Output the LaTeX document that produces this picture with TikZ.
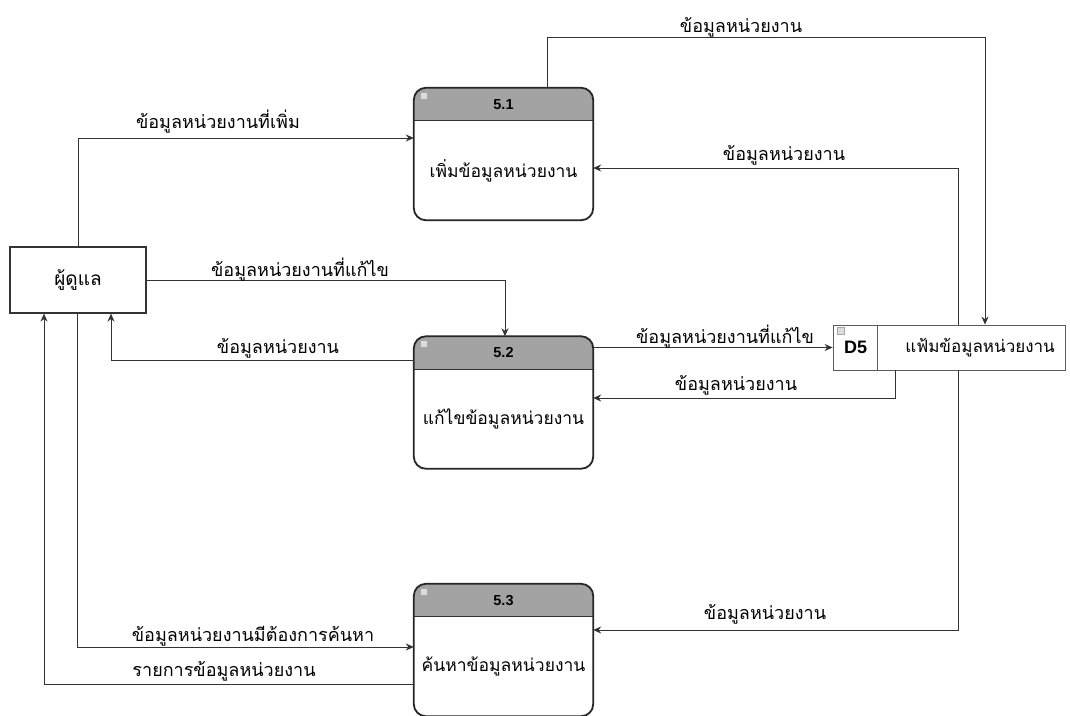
\documentclass[tikz,border=0pt]{standalone}
\usepackage{fontspec}
\setmainfont{Liberation Sans}
\newfontfamily\thai[Script=Thai]{Loma}
\usetikzlibrary{arrows.meta}
\definecolor{ln}{HTML}{333333}
\definecolor{hdr}{HTML}{A3A3A3}
\definecolor{ico}{HTML}{DCDCDC}
\tikzset{
  flow/.style={draw=ln, line width=0.9pt, -{Stealth[length=8pt,width=7pt]}},
  lbl/.style={font=\thai\fontsize{18}{20}\selectfont, text=black, inner sep=0pt},
  proc/.style={draw=none, minimum width=179pt, minimum height=132pt, inner sep=0pt},
  ent/.style={draw=ln, line width=1.2pt, minimum width=136pt, minimum height=66pt, inner sep=0pt, font=\thai\fontsize{19}{21}\selectfont},
  store/.style={draw=ln!80, line width=0.8pt, minimum width=232pt, minimum height=45pt, inner sep=0pt},
  ptitle/.style={font=\bfseries\fontsize{14.5}{16}\selectfont, inner sep=0pt},
  pname/.style={font=\thai\fontsize{17.5}{20}\selectfont, inner sep=0pt},
  icon/.style={fill=ico, draw=gray!70, line width=0.4pt}
}
\newcommand{\procbox}[4]{% name, center, number, text
  \node[proc] (#1) at #2 {};
  \begin{scope}
    \clip[rounded corners=12pt] (#1.south west) rectangle (#1.north east);
    \fill[white] (#1.south west) rectangle (#1.north east);
    \fill[hdr] ([yshift=-33pt]#1.north west) rectangle (#1.north east);
  \end{scope}
  \draw[ln, line width=1.2pt] ([yshift=-33pt]#1.north west) -- ([yshift=-33pt]#1.north east);
  \draw[black!85, line width=1.8pt, rounded corners=12pt] (#1.south west) rectangle (#1.north east);
  \fill[icon] ([xshift=6pt,yshift=-4pt]#1.north west) rectangle ([xshift=13pt,yshift=-11pt]#1.north west);
  \node[ptitle] (#1t) at ([yshift=-16.5pt]#1.north) {#3};
  \node[pname] (#1n) at ([yshift=-16.5pt]#1.center) {#4};
}
\begin{document}
\begin{tikzpicture}[x=1pt,y=-1pt]
\useasboundingbox (0,0) rectangle (1070,715);
\clip (0,0) rectangle (1070,715);
\fill[white] (0,0) rectangle (1070,715);

\node[ent] (admin) at (78,280) {ผู้ดูแล};

\procbox{p51}{(503.5,154)}{5.1}{เพิ่มข้อมูลหน่วยงาน}
\procbox{p52}{(503.5,402.5)}{5.2}{แก้ไขข้อมูลหน่วยงาน}
\procbox{p53}{(503.5,650)}{5.3}{ค้นหาข้อมูลหน่วยงาน}

% data store
\node[store, fill=white] (d5) at (949,347.5) {};
\draw[ln!80, line width=0.8pt] ([xshift=45pt]d5.north west) -- ([xshift=45pt]d5.south west);
\fill[icon] ([xshift=5pt,yshift=-3pt]d5.north west) rectangle ([xshift=12pt,yshift=-10pt]d5.north west);
\node[font=\bfseries\fontsize{18}{20}\selectfont, inner sep=0pt] (d5id) at ([xshift=23pt]d5.west) {D5};
\node[font=\thai\fontsize{17}{20}\selectfont, inner sep=0pt] (d5n) at ([xshift=31pt]d5.center) {แฟ้มข้อมูลหน่วยงาน};

% connectors
\draw[flow] (admin.north) |- ([yshift=16pt]p51.west);
\draw[flow] ([xshift=43.5pt]p51.north) -- ++(0,-50) -| ([xshift=36pt]d5.north);
\draw[flow] ([xshift=9pt]d5.north) |- ([yshift=-14pt]p51.east);
\draw[flow] (admin.east) -| ([xshift=1.5pt]p52.north);
\draw[flow] ([yshift=42.5pt]p52.west) -| ([xshift=33pt]admin.south);
\draw[flow] (p52.east |- d5.west) -- (d5.west);
\draw[flow] ([xshift=-54pt]d5.south) |- ([yshift=4.5pt]p52.east);
\draw[flow] ([xshift=-1pt]admin.south) |- ([yshift=3pt]p53.west);
\draw[flow] ([yshift=-34pt]p53.west) -| ([xshift=-34pt]admin.south);
\draw[flow] ([xshift=9pt]d5.south) |- ([yshift=20pt]p53.east);

% labels
\node[lbl] (l1) at (218,122) {ข้อมูลหน่วยงานที่เพิ่ม};
\node[lbl] (l2) at (741,27) {ข้อมูลหน่วยงาน};
\node[lbl] (l3) at (784,155) {ข้อมูลหน่วยงาน};
\node[lbl] (l4) at (300,270) {ข้อมูลหน่วยงานที่แก้ไข};
\node[lbl] (l5) at (278,348) {ข้อมูลหน่วยงาน};
\node[lbl] (l6) at (725,337) {ข้อมูลหน่วยงานที่แก้ไข};
\node[lbl] (l7) at (736,385) {ข้อมูลหน่วยงาน};
\node[lbl] (l8) at (253,636) {ข้อมูลหน่วยงานมีต้องการค้นหา};
\node[lbl] (l9) at (224,671) {รายการข้อมูลหน่วยงาน};
\node[lbl] (l10) at (765,614) {ข้อมูลหน่วยงาน};
\end{tikzpicture}
\end{document}
